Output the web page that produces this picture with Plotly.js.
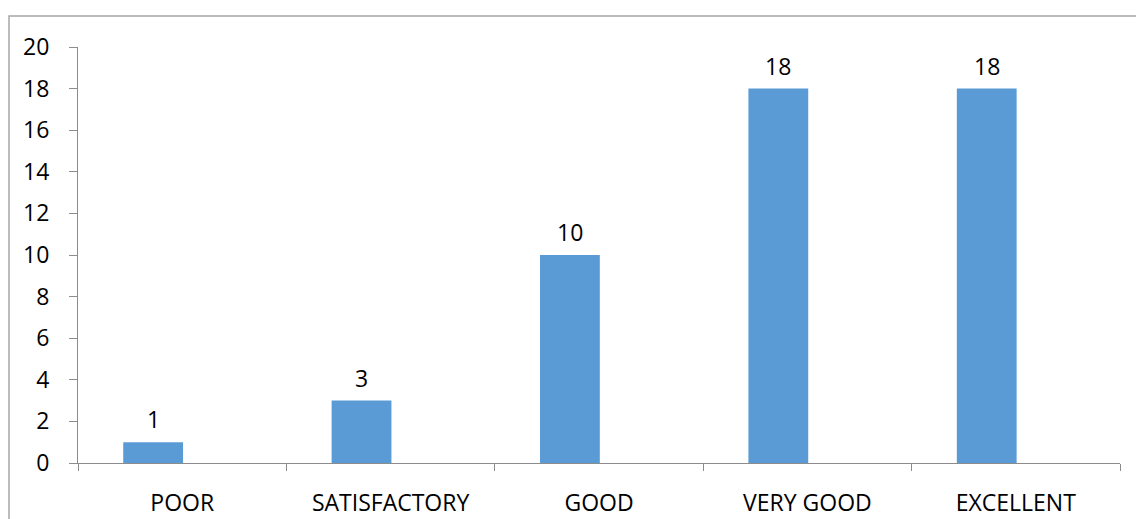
<!DOCTYPE html>
<html>
<head>
<meta charset="utf-8">
<script src="https://cdn.plot.ly/plotly-3.0.1.min.js"></script>
<style>
  html, body { margin: 0; padding: 0; background: #ffffff; }
  #chart { width: 1136px; height: 519px; }
</style>
</head>
<body>
<div id="chart"></div>
<script>
// Ratings and how many responses fell into each
const categories = ["POOR", "SATISFACTORY", "GOOD", "VERY GOOD", "EXCELLENT"];
const counts = [1, 3, 10, 18, 18];
const yTicks = [0, 2, 4, 6, 8, 10, 12, 14, 16, 18, 20];

const FONT = "Open Sans, Lato, sans-serif";
const AXIS_GREY = "#8c8c8c";
const BAR_WIDTH = 0.287;
const BAR_OFFSET = -0.283;

const trace = {
  type: "bar",
  x: categories,
  y: counts,
  width: BAR_WIDTH,
  offset: BAR_OFFSET,
  marker: { color: "#5B9BD5", line: { width: 0 } },
  hoverinfo: "x+y"
};

// value labels sit centred above each bar
const valueLabels = counts.map((v, i) => ({
  x: i + BAR_OFFSET + BAR_WIDTH / 2,
  y: v,
  xref: "x",
  yref: "y",
  text: String(v),
  showarrow: false,
  xanchor: "center",
  yanchor: "bottom",
  yshift: 5,
  font: { family: FONT, size: 23, color: "#000000" }
}));

const layout = {
  width: 1136,
  height: 519,
  margin: { l: 78, r: 16, t: 47, b: 56 },
  paper_bgcolor: "#ffffff",
  plot_bgcolor: "#ffffff",
  showlegend: false,
  font: { family: FONT, size: 23, color: "#000000" },
  xaxis: {
    type: "category",
    range: [-0.5, 4.5],
    tickson: "boundaries",
    ticks: "outside",
    ticklen: 7,
    tickcolor: AXIS_GREY,
    tickwidth: 1,
    showline: true,
    linecolor: AXIS_GREY,
    linewidth: 1,
    showgrid: false,
    zeroline: false,
    ticklabelstandoff: 19,
    tickfont: { family: FONT, size: 23, color: "#000000" }
  },
  yaxis: {
    range: [0, 20],
    tickvals: yTicks,
    ticktext: yTicks.map(String),
    ticks: "outside",
    ticklen: 8,
    tickcolor: AXIS_GREY,
    tickwidth: 1,
    showline: true,
    linecolor: AXIS_GREY,
    linewidth: 1,
    showgrid: false,
    zeroline: false,
    ticklabelstandoff: 15,
    tickfont: { family: FONT, size: 23, color: "#000000" }
  },
  annotations: valueLabels,
  shapes: [
    // outer frame around the chart area (top and left edges visible)
    {
      type: "rect", xref: "paper", yref: "paper",
      x0: (9 - 78) / 1042, x1: 1.2,
      y0: -0.4, y1: 1 + (47 - 16) / 416,
      line: { color: "#a6a6a6", width: 1.5 },
      fillcolor: "rgba(0,0,0,0)",
      layer: "below"
    }
  ]
};

Plotly.newPlot("chart", [trace], layout, { displayModeBar: false, staticPlot: true });
</script>
</body>
</html>
